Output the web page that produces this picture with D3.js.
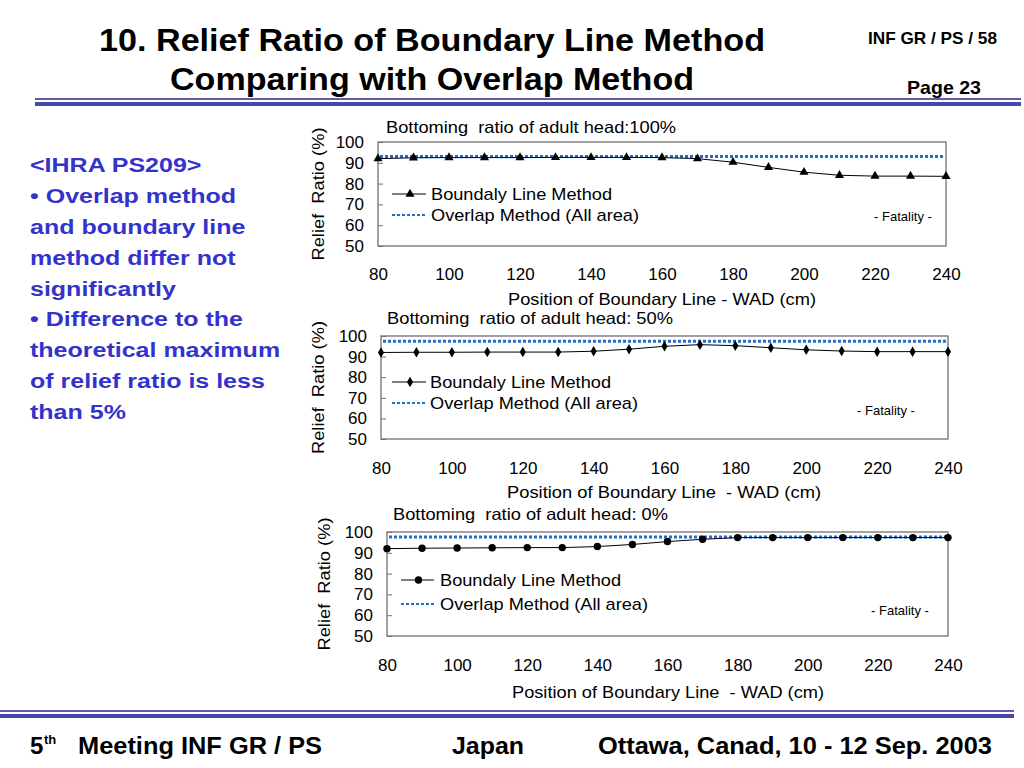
<!DOCTYPE html>
<html><head><meta charset="utf-8">
<script src="https://cdn.jsdelivr.net/npm/d3@7"></script>
<style>
body{margin:0;background:#fff;}
svg{display:block;}
svg text{white-space:pre;}
</style></head>
<body>
<svg id="c" width="1024" height="768"></svg>
<script>
// ---- data ----
const positions = [80,90,100,110,120,130,140,150,160,170,180,190,200,210,220,230,240];
const xTickValues = [80,100,120,140,160,180,200,220,240];
const yTickValues = [50,60,70,80,90,100];
const boundary100 = [92,92.4,92.5,92.5,92.5,92.6,92.6,92.6,92.5,92,90.3,87.8,85.5,84,83.6,83.6,83.5];
const boundary50  = [92,92.1,92.1,92.2,92.2,92.2,92.6,93.6,95,95.8,95.3,94.3,93.3,92.7,92.4,92.4,92.4];
const boundary0   = [92,92.2,92.3,92.4,92.5,92.5,93,94,95.4,96.5,97.3,97.3,97.3,97.3,97.3,97.3,97.3];
const overlapValues = [93, 97.4, 97.6];
const chartTitles = ["Bottoming  ratio of adult head:100%","Bottoming  ratio of adult head: 50%","Bottoming  ratio of adult head: 0%"];
const xAxisTitles = ["Position of Boundary Line - WAD (cm)","Position of Boundary Line  - WAD (cm)","Position of Boundary Line  - WAD (cm)"];
const markerShapes = ["triangle","diamond","circle"];
const legendLabels = ["Boundaly Line Method","Overlap Method (All area)"];
const bulletLines = ["<IHRA PS209>","• Overlap method","and boundary line","method differ not","significantly","• Difference to the","theoretical maximum","of relief ratio is less","than 5%"];

const svg = d3.select("#c");
const narrow = "'Liberation Sans Narrow','Arial Narrow','Liberation Sans',Arial,sans-serif";
const sans = "'Liberation Sans',Arial,sans-serif";

function fit(sel, w){ return sel.attr("textLength",w).attr("lengthAdjust","spacingAndGlyphs"); }

// ---- header ----
fit(svg.append("text").attr("x",432).attr("y",51).attr("text-anchor","middle")
  .attr("font-family",narrow).attr("font-weight","bold").attr("font-size",32)
  .text("10. Relief Ratio of Boundary Line Method"),666);
fit(svg.append("text").attr("x",432).attr("y",90).attr("text-anchor","middle")
  .attr("font-family",narrow).attr("font-weight","bold").attr("font-size",32)
  .text("Comparing with Overlap Method"),524);
fit(svg.append("text").attr("x",997).attr("y",44).attr("text-anchor","end")
  .attr("font-family",narrow).attr("font-weight","bold").attr("font-size",17)
  .text("INF GR / PS / 58"),129);
fit(svg.append("text").attr("x",981).attr("y",94).attr("text-anchor","end")
  .attr("font-family",narrow).attr("font-weight","bold").attr("font-size",19)
  .text("Page 23"),74);
svg.append("line").attr("x1",35).attr("x2",1021).attr("y1",99).attr("y2",99).attr("stroke","#2b2b80").attr("stroke-width",1.5);
svg.append("line").attr("x1",35).attr("x2",1021).attr("y1",104).attr("y2",104).attr("stroke","#4848a8").attr("stroke-width",4);

// ---- footer ----
svg.append("line").attr("x1",0).attr("x2",1014).attr("y1",711).attr("y2",711).attr("stroke","#2b2b80").attr("stroke-width",1.5);
svg.append("line").attr("x1",0).attr("x2",1014).attr("y1",716).attr("y2",716).attr("stroke","#4848a8").attr("stroke-width",4);
svg.append("text").attr("x",30).attr("y",754).attr("font-family",narrow).attr("font-weight","bold").attr("font-size",24).text("5");
svg.append("text").attr("x",44).attr("y",744).attr("font-family",narrow).attr("font-weight","bold").attr("font-size",13).text("th");
fit(svg.append("text").attr("x",78).attr("y",754).attr("font-family",narrow).attr("font-weight","bold").attr("font-size",24).text("Meeting INF GR / PS"),244);
fit(svg.append("text").attr("x",452).attr("y",754).attr("font-family",narrow).attr("font-weight","bold").attr("font-size",24).text("Japan"),72);
fit(svg.append("text").attr("x",598).attr("y",754).attr("font-family",narrow).attr("font-weight","bold").attr("font-size",24).text("Ottawa, Canad, 10 - 12 Sep. 2003"),394);

// ---- left bullet text (glyphs widened like the original) ----
svg.append("g").attr("transform","translate(30,0) scale(1.22,1)")
  .selectAll("text").data(bulletLines).join("text")
  .attr("x",0).attr("y",(d,i)=>172+i*30.9)
  .attr("font-family",sans).attr("font-weight","bold").attr("font-size",20.5)
  .attr("fill","#3333cc").text(d=>d);

// ---- charts ----
const layouts = [
  {left:378,right:946,top:142,bottom:246,titleX:386,titleY:133,titleW:290,xLabY:280,xTitleY:305,xTitleW:308,xTitleC:662,yTitleX:324,
   leg:{x1:392,x2:426,y1:194,y2:215,tx:431},fat:{x:903,y:221}},
  {left:381,right:948,top:336,bottom:439,titleX:387,titleY:324,titleW:286,xLabY:474,xTitleY:498,xTitleW:314,xTitleC:664,yTitleX:324,
   leg:{x1:392,x2:426,y1:382,y2:403,tx:430},fat:{x:886,y:415}},
  {left:387,right:948,top:532,bottom:636,titleX:393,titleY:520,titleW:275,xLabY:671,xTitleY:698,xTitleW:312,xTitleC:668,yTitleX:330,
   leg:{x1:401,x2:434,y1:580,y2:604,tx:440},fat:{x:900,y:615}}
];
const seriesList = [boundary100, boundary50, boundary0];

function marker(g, shape, x, y){
  if(shape==="triangle"){
    g.append("path").attr("d",d3.symbol(d3.symbolTriangle,36)()).attr("transform",`translate(${x},${y})`).attr("fill","#000");
  } else if(shape==="diamond"){
    g.append("path").attr("d",d3.symbol(d3.symbolDiamond,32)()).attr("transform",`translate(${x},${y})`).attr("fill","#000");
  } else {
    g.append("circle").attr("cx",x).attr("cy",y).attr("r",3.7).attr("fill","#000");
  }
}

layouts.forEach((L,ci)=>{
  const g = svg.append("g");
  const x = d3.scaleLinear().domain([80,240]).range([L.left,L.right]);
  const y = d3.scaleLinear().domain([50,100]).range([L.bottom,L.top]);
  // box
  g.append("rect").attr("x",L.left).attr("y",L.top).attr("width",L.right-L.left).attr("height",L.bottom-L.top)
    .attr("fill","none").attr("stroke","#707070").attr("stroke-width",1.3);
  // y axis (ticks pointing inward)
  const ya = g.append("g").attr("transform",`translate(${L.left},0)`)
    .call(d3.axisLeft(y).tickValues(yTickValues).tickSize(-5).tickPadding(14));
  ya.select(".domain").remove();
  ya.selectAll("line").attr("stroke","#707070");
  ya.selectAll("text").attr("font-family",sans).attr("font-size",17).attr("fill","#000");
  // x axis
  const xa = g.append("g").attr("transform",`translate(0,${L.bottom})`)
    .call(d3.axisBottom(x).tickValues(xTickValues).tickSize(0).tickPadding(0));
  xa.select(".domain").remove();
  xa.selectAll("text").attr("font-family",sans).attr("font-size",17).attr("fill","#000")
    .attr("dy",null).attr("y",L.xLabY-L.bottom);
  // titles
  fit(g.append("text").attr("x",L.titleX).attr("y",L.titleY).attr("font-family",sans).attr("font-size",16.5).text(chartTitles[ci]),L.titleW);
  fit(g.append("text").attr("x",L.xTitleC).attr("y",L.xTitleY).attr("text-anchor","middle")
    .attr("font-family",sans).attr("font-size",17).text(xAxisTitles[ci]),L.xTitleW);
  fit(g.append("text").attr("transform",`translate(${L.yTitleX},${(L.top+L.bottom)/2}) rotate(-90)`).attr("text-anchor","middle")
    .attr("font-family",sans).attr("font-size",17).text("Relief  Ratio (%)"),133);
  // overlap line
  g.append("line").attr("x1",L.left+2).attr("x2",L.right-2).attr("y1",y(overlapValues[ci])).attr("y2",y(overlapValues[ci]))
    .attr("stroke","#1f6fd0").attr("stroke-width",3).attr("stroke-dasharray","3,2");
  // boundary line
  const data = positions.map((p,i)=>[p,seriesList[ci][i]]);
  g.append("path").datum(data).attr("fill","none").attr("stroke","#000").attr("stroke-width",1)
    .attr("d",d3.line().x(d=>x(d[0])).y(d=>y(d[1])));
  data.forEach(d=>marker(g, markerShapes[ci], x(d[0]), y(d[1])));
  // legend
  g.append("line").attr("x1",L.leg.x1).attr("x2",L.leg.x2).attr("y1",L.leg.y1).attr("y2",L.leg.y1).attr("stroke","#000").attr("stroke-width",1);
  marker(g, markerShapes[ci], (L.leg.x1+L.leg.x2)/2+1, L.leg.y1);
  fit(g.append("text").attr("x",L.leg.tx).attr("y",L.leg.y1+6).attr("font-family",sans).attr("font-size",17).text(legendLabels[0]),181);
  g.append("line").attr("x1",L.leg.x1).attr("x2",L.leg.x2).attr("y1",L.leg.y2).attr("y2",L.leg.y2)
    .attr("stroke","#1f6fd0").attr("stroke-width",2).attr("stroke-dasharray","3,2");
  fit(g.append("text").attr("x",L.leg.tx).attr("y",L.leg.y2+6).attr("font-family",sans).attr("font-size",17).text(legendLabels[1]),208);
  g.append("text").attr("x",L.fat.x).attr("y",L.fat.y).attr("text-anchor","middle").attr("font-family",sans).attr("font-size",13).text("- Fatality -");
});
</script>
</body></html>
